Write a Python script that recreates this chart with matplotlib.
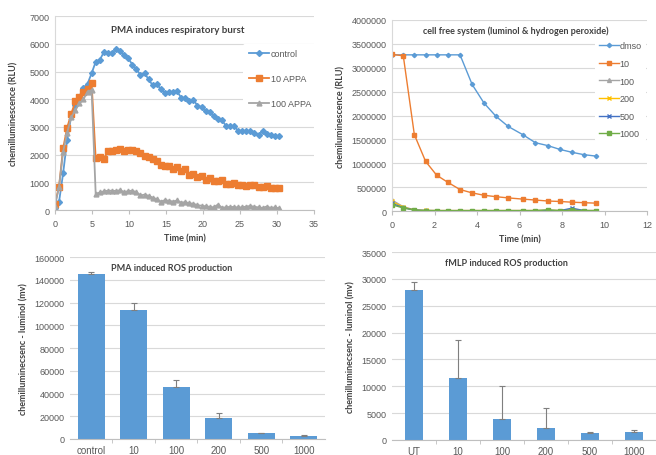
import numpy as np
import matplotlib.pyplot as plt

# ---- top left: PMA respiratory burst ----
t_pma = np.arange(56) * 0.55
control = [80, 300, 1330, 2540, 3400, 3800, 4100, 4420, 4560, 4940,
           5350, 5420, 5700, 5670, 5680, 5800, 5730, 5600, 5480, 5250,
           5080, 4880, 4940, 4720, 4500, 4560, 4360, 4220, 4270, 4270,
           4290, 4050, 4060, 3940, 3990, 3760, 3720, 3560, 3540, 3380,
           3300, 3250, 3040, 3040, 3030, 2860, 2870, 2850, 2860, 2800,
           2720, 2840, 2760, 2700, 2680, 2660]
appa10 = [230, 850, 2230, 2980, 3480, 3920, 4080, 4260, 4380, 4580,
          1870, 1900, 1850, 2120, 2130, 2180, 2220, 2150, 2160, 2170,
          2130, 2050, 1960, 1930, 1860, 1760, 1620, 1600, 1580, 1490,
          1540, 1420, 1470, 1270, 1290, 1200, 1230, 1080, 1150, 1060,
          1060, 1070, 940, 930, 990, 920, 900, 860, 910, 900,
          820, 820, 860, 790, 790, 790]
appa100 = [150, 850, 2100, 2800, 3350, 3600, 3850, 4000, 4280, 4330,
           580, 640, 680, 700, 700, 690, 720, 650, 690, 700,
           650, 530, 560, 520, 450, 400, 310, 360, 340, 310,
           350, 270, 290, 250, 230, 180, 160, 140, 120, 100,
           200, 90, 100, 120, 110, 100, 100, 130, 150, 120,
           100, 80, 130, 80, 100, 70]

# ---- top right: cell free system ----
t_cf = [0, 0.53, 1.05, 1.58, 2.1, 2.63, 3.2, 3.77, 4.33, 4.9,
        5.47, 6.15, 6.75, 7.33, 7.9, 8.47, 9.03, 9.6]
dmso = [3270000, 3270000, 3270000, 3270000, 3270000, 3270000, 3270000, 2650000, 2260000, 1980000,
        1770000, 1600000, 1430000, 1370000, 1290000, 1230000, 1180000, 1150000]
cf10 = [3280000, 3250000, 1600000, 1040000, 750000, 600000, 450000, 380000, 330000, 300000,
        275000, 250000, 230000, 210000, 200000, 185000, 175000, 165000]
cf100 = [230000, 90000, 25000, 12000, 10000, 10000, 10000, 10000, 10000, 10000,
         10000, 10000, 10000, 15000, 10000, 30000, 10000, 10000]
cf200 = [200000, 80000, 22000, 12000, 10000, 10000, 10000, 10000, 10000, 10000,
         10000, 10000, 10000, 12000, 10000, 20000, 10000, 10000]
cf500 = [160000, 70000, 20000, 10000, 8000, 8000, 8000, 8000, 8000, 8000,
         8000, 8000, 8000, 10000, 8000, 60000, 10000, 8000]
cf1000 = [130000, 65000, 20000, 10000, 8000, 8000, 8000, 8000, 8000, 8000,
          8000, 8000, 8000, 25000, 8000, 20000, 8000, 8000]

# ---- bottom: ROS production bars ----
pma_cats = ['control', '10', '100', '200', '500', '1000']
pma_vals = [145000, 113000, 46000, 18500, 5200, 3000]
pma_err = [2000, 7000, 6000, 4000, 500, 600]
fmlp_cats = ['UT', '10', '100', '200', '500', '1000']
fmlp_vals = [28000, 11600, 4000, 2300, 1300, 1400]
fmlp_err = [1500, 7000, 6000, 3700, 250, 400]

BLUE, ORANGE, GRAY = '#5B9BD5', '#ED7D31', '#A5A5A5'
TXT = '#404040'
plt.rcParams['font.family'] = ['Liberation Sans', 'DejaVu Sans']

fig = plt.figure(figsize=(6.56, 4.56), dpi=100)
ax1 = fig.add_axes([0.0838, 0.537, 0.395, 0.4254])
ax2 = fig.add_axes([0.5976, 0.535, 0.3887, 0.419])
ax3 = fig.add_axes([0.1067, 0.0351, 0.3887, 0.399])
ax4 = fig.add_axes([0.5976, 0.0329, 0.402, 0.412])


def style(ax, left_line=False):
    for s in ['top', 'right']:
        ax.spines[s].set_visible(False)
    ax.spines['left'].set_visible(left_line)
    ax.spines['left'].set_color('#D9D9D9')
    ax.spines['bottom'].set_color('#BFBFBF')
    ax.grid(axis='y', color='#D9D9D9', linewidth=0.8)
    ax.set_axisbelow(True)
    ax.tick_params(axis='y', length=0, labelsize=6.5, labelcolor='#595959', pad=4)
    ax.tick_params(axis='x', length=3, color='#BFBFBF', labelsize=6.5, labelcolor='#595959')


bold = dict(family=['Lato', 'DejaVu Sans'], weight='bold', color=TXT)


def white_legend(leg):
    leg.get_frame().set_facecolor('white')
    leg.get_frame().set_edgecolor('none')
    leg.get_frame().set_alpha(1)
    for tx in leg.get_texts():
        tx.set_color('#595959')


# top left
ax1.plot(t_pma, control, color=BLUE, marker='D', ms=3, lw=1.3, label='control')
ax1.plot(t_pma, appa10, color=ORANGE, marker='s', ms=3.8, lw=1.3, label='10 APPA')
ax1.plot(t_pma, appa100, color=GRAY, marker='^', ms=3.5, lw=1.3, label='100 APPA')
ax1.set_xlim(0, 35)
ax1.set_ylim(0, 7000)
ax1.set_xticks(range(0, 36, 5))
ax1.set_yticks(range(0, 7001, 1000))
style(ax1, True)
ax1.text(0.475, 0.933, 'PMA induces respiratory burst', transform=ax1.transAxes,
         ha='center', va='center', fontsize=7, **bold)
ax1.set_xlabel('Time (min)', fontsize=6.5, labelpad=4, **bold)
ax1.set_ylabel('chemilluminescence (RLU)', fontsize=6.5, labelpad=8, **bold)
white_legend(ax1.legend(loc='upper left', bbox_to_anchor=(0.71, 0.88), frameon=True, fontsize=6.5,
                        labelspacing=1.75, handlelength=2.2, handletextpad=0.2, borderpad=0.6))

# top right
ax2.plot(t_cf, dmso, color='#5B9BD5', marker='D', ms=2.2, lw=1, label='dmso')
ax2.plot(t_cf, cf10, color=ORANGE, marker='s', ms=2.8, lw=1, label='10')
ax2.plot(t_cf, cf100, color=GRAY, marker='^', ms=2.8, lw=1, label='100')
ax2.plot(t_cf, cf200, color='#FFC000', marker='x', ms=2.8, lw=1, label='200')
ax2.plot(t_cf, cf500, color='#4472C4', marker='x', ms=2.8, lw=1, label='500')
ax2.plot(t_cf, cf1000, color='#70AD47', marker='s', ms=2.8, lw=1, label='1000')
ax2.set_xlim(0, 12)
ax2.set_ylim(0, 4000000)
ax2.set_xticks(range(0, 13, 2))
ax2.set_yticks(range(0, 4000001, 500000))
ax2.ticklabel_format(axis='y', style='plain', useOffset=False)
style(ax2, True)
ax2.text(0.486, 0.948, 'cell free system (luminol & hydrogen peroxide)', transform=ax2.transAxes,
         ha='center', va='center', fontsize=6.5, **bold)
ax2.set_xlabel('Time (min)', fontsize=6.5, labelpad=4, **bold)
ax2.set_ylabel('chemiluminescence (RLU)', fontsize=6.5, labelpad=4, **bold)
white_legend(ax2.legend(loc='upper left', bbox_to_anchor=(0.78, 0.93), frameon=True, fontsize=6.5,
                        labelspacing=0.95, handlelength=2.2, handletextpad=0.1, borderpad=0.4))


def bars(ax, cats, vals, err, width, top, step, title, tx):
    x = np.arange(len(cats))
    ax.bar(x, vals, width=width, color=BLUE, zorder=2)
    ax.errorbar(x, vals, yerr=[np.zeros(len(err)), err], fmt='none', ecolor='#7F7F7F',
                elinewidth=0.8, capsize=2, capthick=0.8, zorder=3)
    ax.set_xlim(-0.5, len(cats) - 0.5)
    ax.set_ylim(0, top)
    ax.set_yticks(np.arange(0, top + 1, step))
    ax.set_xticks(x)
    ax.set_xticklabels(cats)
    style(ax)
    ax.tick_params(axis='x', which='major', length=0, labelsize=7, pad=4)
    ax.set_xticks(np.arange(0.5, len(cats) - 0.5, 1), minor=True)
    ax.tick_params(axis='x', which='minor', length=3, color='#BFBFBF')
    ax.text(tx, 0.945, title, transform=ax.transAxes, ha='left', va='center', fontsize=6.5, **bold)
    ax.set_ylabel('chemilluminecsenc - luminol (mv)', fontsize=6.5, labelpad=4, **bold)


bars(ax3, pma_cats, pma_vals, pma_err, 0.63, 160000, 20000, 'PMA induced ROS production', 0.16)
bars(ax4, fmlp_cats, fmlp_vals, fmlp_err, 0.42, 35000, 5000, 'fMLP induced ROS production', 0.2)

fig.savefig('out.png', dpi=100)
